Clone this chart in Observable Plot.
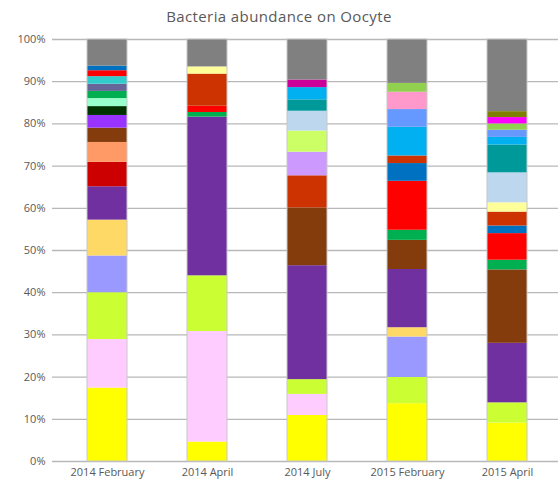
<!DOCTYPE html>
<html>
<head>
<meta charset="utf-8">
<script src="https://cdn.jsdelivr.net/npm/d3@7"></script>
<script src="https://cdn.jsdelivr.net/npm/@observablehq/plot@0.6"></script>
<style>
  body { margin: 0; background: #fff; font-family: "Open Sans", sans-serif; }
  #title { height: 30px; line-height: 32px; text-align: center; font-size: 15px; color: #595959; letter-spacing: 0.4px; }
</style>
</head>
<body>
<div id="title">Bacteria abundance on Oocyte</div>
<div id="chart"></div>
<script>
// Sampling dates (x categories)
const months = ["2014 February", "2014 April", "2014 July", "2015 February", "2015 April"];

// Taxa and their fill colours
const taxa = ["OTU 1", "OTU 2", "OTU 3", "OTU 4", "OTU 5", "OTU 6", "OTU 7", "OTU 8", "OTU 9", "OTU 10",
  "OTU 11", "OTU 12", "OTU 13", "OTU 14", "OTU 15", "OTU 16", "OTU 17", "OTU 18", "OTU 19", "OTU 20",
  "OTU 21", "OTU 22", "OTU 23", "OTU 24", "OTU 25", "OTU 26", "OTU 27", "OTU 28", "OTU 29", "OTU 30", "Other"];
const taxaColors = ["#FFFF00", "#FFCCFF", "#CCFF33", "#9999FF", "#FFD966", "#7030A0", "#843C0C", "#CC0000", "#FF9966", "#9933FF",
  "#003300", "#99FFCC", "#00B050", "#666699", "#33CCCC", "#FF0000", "#0070C0", "#CC3300", "#FFFF99", "#CC99FF",
  "#CCFF66", "#BDD7EE", "#009999", "#00B0F0", "#CC0099", "#92D050", "#FF99CC", "#6699FF", "#808000", "#FF00FF", "#808080"];

// Relative abundance (%) per sample, listed bottom to top of each bar
const feb2014 = [["OTU 1", 17.4], ["OTU 2", 11.5], ["OTU 3", 11.1], ["OTU 4", 8.7], ["OTU 5", 8.5], ["OTU 6", 7.9],
  ["OTU 8", 5.8], ["OTU 9", 4.7], ["OTU 7", 3.4], ["OTU 10", 3.0], ["OTU 11", 2.1], ["OTU 12", 1.9], ["OTU 13", 1.7],
  ["OTU 14", 1.7], ["OTU 15", 1.8], ["OTU 16", 1.4], ["OTU 17", 1.1], ["Other", 6.3]];
const apr2014 = [["OTU 1", 4.6], ["OTU 2", 26.2], ["OTU 3", 13.2], ["OTU 6", 37.6], ["OTU 13", 1.1], ["OTU 16", 1.5],
  ["OTU 18", 7.6], ["OTU 19", 1.7], ["Other", 6.5]];
const jul2014 = [["OTU 1", 10.9], ["OTU 2", 5.0], ["OTU 3", 3.5], ["OTU 6", 27.0], ["OTU 7", 13.7], ["OTU 18", 7.6],
  ["OTU 20", 5.6], ["OTU 21", 5.0], ["OTU 22", 4.7], ["OTU 23", 2.7], ["OTU 24", 2.9], ["OTU 25", 1.8], ["Other", 9.6]];
const feb2015 = [["OTU 1", 13.7], ["OTU 3", 6.2], ["OTU 4", 9.6], ["OTU 5", 2.2], ["OTU 6", 13.8], ["OTU 7", 6.9],
  ["OTU 13", 2.4], ["OTU 16", 11.6], ["OTU 17", 4.2], ["OTU 18", 1.8], ["OTU 24", 6.8], ["OTU 28", 4.2], ["OTU 27", 4.1],
  ["OTU 26", 2.1], ["Other", 10.4]];
const apr2015 = [["OTU 1", 9.1], ["OTU 3", 4.8], ["OTU 6", 14.1], ["OTU 7", 17.4], ["OTU 13", 2.3], ["OTU 16", 6.3],
  ["OTU 17", 1.8], ["OTU 18", 3.3], ["OTU 19", 2.2], ["OTU 22", 7.1], ["OTU 23", 6.6], ["OTU 24", 1.8], ["OTU 28", 1.7],
  ["OTU 26", 1.5], ["OTU 30", 1.5], ["OTU 29", 1.4], ["Other", 17.1]];

const yTicks = [0, 10, 20, 30, 40, 50, 60, 70, 80, 90, 100];

const samples = [feb2014, apr2014, jul2014, feb2015, apr2015];
const rows = samples.flatMap((s, i) => s.map(([taxon, value]) => ({month: months[i], taxon, value})));
const totals = months.map((month, i) => ({month, value: d3.sum(samples[i], d => d[1])}));

const chart = Plot.plot({
  width: 558,
  height: 452,
  marginTop: 9,
  marginBottom: 21,
  marginLeft: 52,
  marginRight: 0,
  style: {fontFamily: "Open Sans, sans-serif", fontSize: "11px", color: "#595959", background: "#fff"},
  x: {domain: months, range: [56, 558], paddingInner: 0.6, paddingOuter: 0.3, label: null, tickSize: 0, tickPadding: 7},
  y: {domain: [0, 100], ticks: yTicks, tickFormat: d => d + "%", label: null, tickSize: 0, tickPadding: 7},
  color: {domain: taxa, range: taxaColors},
  marks: [
    Plot.ruleY(yTicks, {stroke: "#b8b8b8", strokeWidth: 1.3}),
    Plot.barY(rows, Plot.stackY({order: null}, {x: "month", y: "value", fill: "taxon", inset: 0})),
    Plot.barY(totals, {x: "month", y: "value", fill: "none", stroke: "#c8c8c8", strokeWidth: 1, inset: 0})
  ]
});
document.getElementById("chart").appendChild(chart);
</script>
</body>
</html>
